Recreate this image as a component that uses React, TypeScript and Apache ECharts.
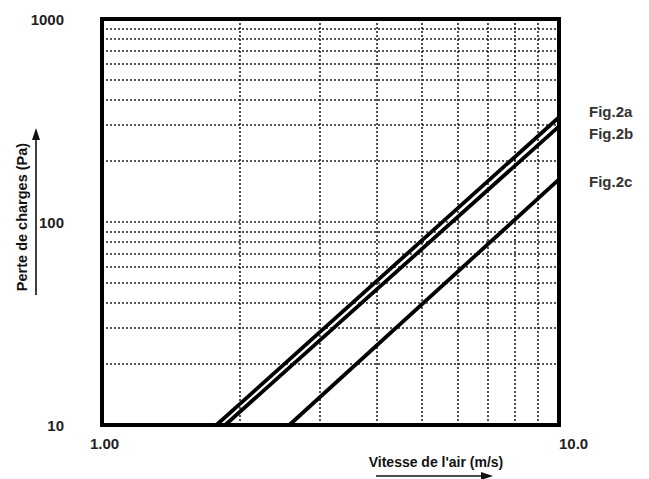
import React, { useEffect, useRef } from "react";
import * as echarts from "echarts";

const seriesNames = ["Fig.2a", "Fig.2b", "Fig.2c"];
const fig2a: [number, number][] = [[1.78, 10], [10, 328]];
const fig2b: [number, number][] = [[1.86, 10], [10, 296]];
const fig2c: [number, number][] = [[2.57, 10], [10, 162]];
const xGridValues = [2, 3, 4, 5, 6, 7, 8, 9];
const yGridValues = [20, 30, 40, 50, 60, 70, 80, 90, 100, 200, 300, 400, 500, 600, 700, 800, 900];
const xTickLabels: Record<number, string> = { 1: "1.00", 10: "10.0" };
const yTickLabels: Record<number, string> = { 10: "10", 100: "100", 1000: "1000" };
const xTitle = "Vitesse de l'air (m/s)";
const yTitle = "Perte de charges (Pa)";

export default function App() {
  const ref = useRef<HTMLDivElement>(null);
  useEffect(() => {
    if (!ref.current) return;
    const chart = echarts.init(ref.current, undefined, { renderer: "svg" });
    const font = "'Liberation Sans', Arial, sans-serif";
    const labelOffsets: [number, number][] = [[22, -6], [22, 7], [22, 2]];
    const datasets = [fig2a, fig2b, fig2c];
    const lineSeries = datasets.map((d, i) => ({
      type: "line",
      name: seriesNames[i],
      data: d,
      symbol: "none",
      lineStyle: { color: "#000", width: 3.8 },
      endLabel: {
        show: true,
        formatter: seriesNames[i],
        offset: labelOffsets[i],
        color: "#333",
        fontWeight: "bold",
        fontSize: 15,
        fontFamily: font,
        align: "left",
      },
      z: 5,
    }));
    const gridSeries = {
      type: "line",
      data: [],
      silent: true,
      markLine: {
        silent: true,
        symbol: "none",
        label: { show: false },
        lineStyle: { color: "#222", width: 1.6, type: [2, 2] as any },
        data: [
          ...xGridValues.map((v) => ({ xAxis: v })),
          ...yGridValues.map((v) => ({ yAxis: v })),
        ],
      },
      z: 2,
    };
    const xLabelStyle = {
      color: "#222",
      fontWeight: "bold" as const,
      fontSize: 15,
      fontFamily: font,
    };
    chart.setOption({
      animation: false,
      grid: {
        left: 102,
        right: 90,
        top: 19,
        bottom: 54,
        show: true,
        borderColor: "#000",
        borderWidth: 4,
        z: 10,
      },
      xAxis: {
        type: "log",
        logBase: 10,
        min: 1,
        max: 10,
        axisLine: { show: false },
        axisTick: { show: false },
        splitLine: { show: false },
        axisLabel: {
          formatter: (v: number) => {
            const r = Math.round(v);
            const t = xTickLabels[r] ?? "";
            return r === 1 ? `{m|${t}}` : `{v|${t}}`;
          },
          ...xLabelStyle,
          rich: {
            v: { ...xLabelStyle },
            m: { ...xLabelStyle, padding: [0, 0, 0, -12] },
          },
          margin: 11,
          alignMinLabel: "left",
          alignMaxLabel: "left",
        },
      },
      yAxis: {
        type: "log",
        logBase: 10,
        min: 10,
        max: 1000,
        axisLine: { show: false },
        axisTick: { show: false },
        splitLine: { show: false },
        axisLabel: {
          formatter: (v: number) => yTickLabels[Math.round(v)] ?? "",
          color: "#222",
          fontWeight: "bold",
          fontSize: 15,
          fontFamily: font,
          margin: 38,
        },
      },
      graphic: [
        {
          type: "text",
          x: 436,
          y: 462,
          style: {
            text: xTitle,
            fill: "#111",
            font: `bold 14px ${font}`,
            align: "center",
            verticalAlign: "middle",
          },
        },
        {
          type: "line",
          shape: { x1: 376, y1: 476, x2: 482, y2: 476 },
          style: { stroke: "#111", lineWidth: 1.6 },
        },
        {
          type: "polygon",
          shape: { points: [[493, 476], [481, 472], [481, 480]] },
          style: { fill: "#111" },
        },
        {
          type: "text",
          x: 22,
          y: 217,
          rotation: Math.PI / 2,
          style: {
            text: yTitle,
            fill: "#111",
            font: `bold 14.5px ${font}`,
            align: "center",
            verticalAlign: "middle",
          },
        },
        {
          type: "line",
          shape: { x1: 36, y1: 295, x2: 36, y2: 139 },
          style: { stroke: "#111", lineWidth: 1.6 },
        },
        {
          type: "polygon",
          shape: { points: [[36, 128], [32, 140], [40, 140]] },
          style: { fill: "#111" },
        },
      ],
      series: [gridSeries, ...lineSeries],
    });
    return () => chart.dispose();
  }, []);
  return (
    <div
      ref={ref}
      style={{ position: "fixed", left: 0, top: 0, width: 649, height: 479, background: "#fff" }}
    />
  );
}
